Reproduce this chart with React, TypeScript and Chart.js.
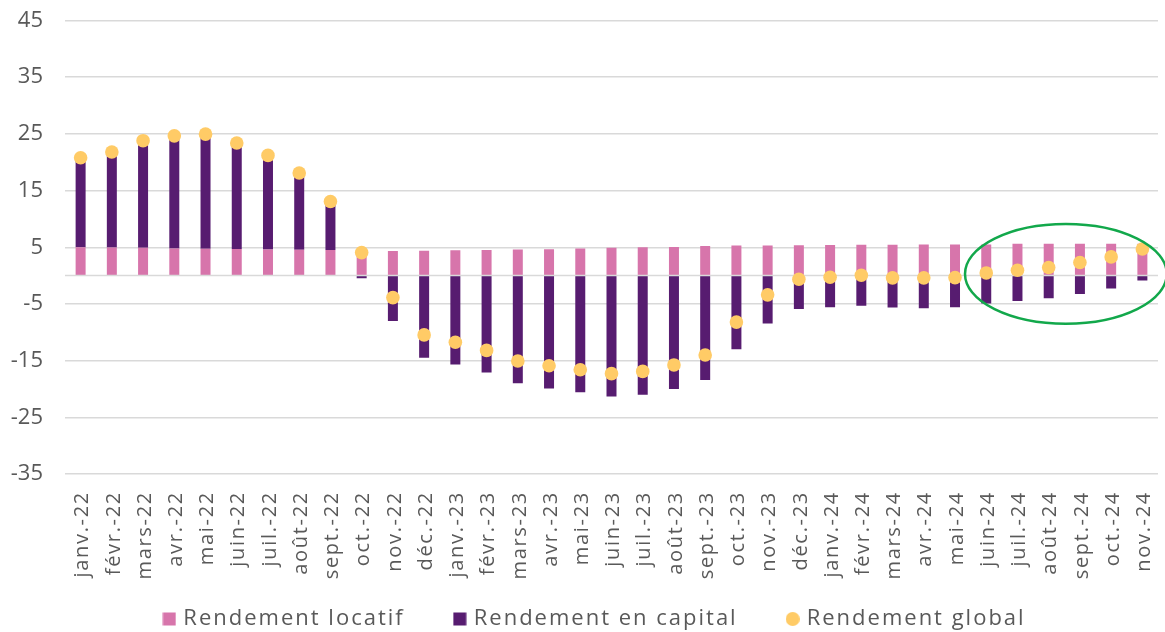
import React, { useEffect, useRef } from 'react';
import { Chart, registerables } from 'chart.js';

Chart.register(...registerables);

const labels = [
  'janv.-22', 'févr.-22', 'mars-22', 'avr.-22', 'mai-22', 'juin-22', 'juil.-22', 'août-22', 'sept.-22', 'oct.-22', 'nov.-22', 'déc.-22',
  'janv.-23', 'févr.-23', 'mars-23', 'avr.-23', 'mai-23', 'juin-23', 'juil.-23', 'août-23', 'sept.-23', 'oct.-23', 'nov.-23', 'déc.-23',
  'janv.-24', 'févr.-24', 'mars-24', 'avr.-24', 'mai-24', 'juin-24', 'juil.-24', 'août-24', 'sept.-24', 'oct.-24', 'nov.-24',
];

const rendementLocatif = [
  5.0, 4.95, 4.9, 4.8, 4.75, 4.7, 4.6, 4.55, 4.5, 4.5, 4.35, 4.4,
  4.48, 4.53, 4.6, 4.65, 4.77, 4.89, 5.0, 5.06, 5.24, 5.3, 5.3, 5.35,
  5.4, 5.45, 5.45, 5.5, 5.5, 5.5, 5.6, 5.6, 5.6, 5.6, 5.6,
];

const rendementCapital = [
  15.5, 16.45, 18.55, 19.5, 19.85, 18.2, 16.2, 13.15, 8.1, -0.47, -8.0, -14.5,
  -15.7, -17.1, -19.0, -19.9, -20.6, -21.35, -21.0, -20.0, -18.4, -13.0, -8.45, -5.88,
  -5.6, -5.3, -5.65, -5.76, -5.6, -4.94, -4.47, -4.0, -3.23, -2.29, -0.88,
];

const rendementGlobal = [
  20.8, 21.8, 23.8, 24.65, 24.95, 23.4, 21.2, 18.1, 13.06, 4.06, -3.88, -10.46,
  -11.76, -13.2, -15.06, -15.9, -16.6, -17.3, -16.9, -15.76, -14.0, -8.2, -3.4, -0.65,
  -0.29, 0.06, -0.4, -0.4, -0.35, 0.47, 0.95, 1.42, 2.3, 3.3, 4.7,
];

const seriesNames = ['Rendement locatif', 'Rendement en capital', 'Rendement global'];

const yMin = -35;
const yMax = 45;
const yStep = 10;

// annotation ellipse (category index / value units)
const ellipseCenter = { index: 31.55, value: 0.3 };
const ellipseRadius = { categories: 3.23, units: 8.8 };

const PINK = '#d775ab';
const PURPLE = '#571c70';
const YELLOW = '#ffcb66';
const GREEN = '#12a84b';
const TEXT = '#595959';
const GRID = '#d9d9d9';
const FONT = "'Open Sans', sans-serif";

function withSpacing(obj: any, method: string, spacing: string) {
  if (!obj || obj['__sp_' + method]) return;
  const orig = obj[method];
  obj[method] = function (...args: any[]) {
    const ctx = obj.ctx;
    const prev = ctx.letterSpacing;
    ctx.letterSpacing = spacing;
    try {
      return orig.apply(obj, args);
    } finally {
      ctx.letterSpacing = prev || '0px';
    }
  };
  obj['__sp_' + method] = true;
}

export default function App() {
  const ref = useRef<HTMLCanvasElement>(null);

  useEffect(() => {
    if (!ref.current) return;

    const icon = (draw: (g: CanvasRenderingContext2D) => void) => {
      const c = document.createElement('canvas');
      c.width = 14;
      c.height = 14;
      const g = c.getContext('2d')!;
      draw(g);
      return c;
    };
    const square = (col: string) => icon((g) => { g.fillStyle = col; g.fillRect(0.5, 0.5, 13, 13); });
    const circle = icon((g) => { g.fillStyle = YELLOW; g.beginPath(); g.arc(7, 7, 7, 0, Math.PI * 2); g.fill(); });
    const legendIcons = [square(PINK), square(PURPLE), circle];

    const zeroLine = {
      id: 'zeroLine',
      beforeDatasetDraw(chart: any, args: any) {
        if (args.index !== 2) return;
        const { ctx, chartArea, scales } = chart;
        const py = scales.y.getPixelForValue(0);
        ctx.save();
        ctx.strokeStyle = GRID;
        ctx.lineWidth = 1.5;
        ctx.beginPath();
        ctx.moveTo(chartArea.left, py);
        ctx.lineTo(chartArea.right, py);
        ctx.stroke();
        ctx.restore();
      },
    };

    const ellipse = {
      id: 'ellipse',
      afterDatasetsDraw(chart: any) {
        const { ctx, scales } = chart;
        const cx = scales.x.getPixelForValue(ellipseCenter.index);
        const cy = scales.y.getPixelForValue(ellipseCenter.value);
        const rx = Math.abs(scales.x.getPixelForValue(ellipseCenter.index + ellipseRadius.categories) - cx);
        const ry = Math.abs(scales.y.getPixelForValue(ellipseCenter.value + ellipseRadius.units) - cy);
        ctx.save();
        ctx.strokeStyle = GREEN;
        ctx.lineWidth = 2.5;
        ctx.beginPath();
        ctx.ellipse(cx, cy, rx, ry, 0, 0, Math.PI * 2);
        ctx.stroke();
        ctx.restore();
      },
    };

    const textTweaks = {
      id: 'textTweaks',
      beforeLayout(chart: any) {
        withSpacing(chart.legend, 'fit', '2px');
        withSpacing(chart.legend, 'draw', '2px');
        withSpacing(chart.scales.x, 'draw', '1.7px');
      },
      afterLayout(chart: any) {
        const lg = chart.legend;
        if (lg) {
          lg.left += 17;
          lg.right += 17;
          lg.top -= 29;
          lg.bottom = chart.height;
        }
      },
    };

    const chart = new Chart(ref.current, {
      type: 'bar',
      data: {
        labels,
        datasets: [
          {
            type: 'bar',
            label: seriesNames[0],
            data: rendementLocatif,
            backgroundColor: PINK,
            barPercentage: 0.32,
            categoryPercentage: 1,
            order: 1,
          },
          {
            type: 'bar',
            label: seriesNames[1],
            data: rendementCapital,
            backgroundColor: PURPLE,
            barPercentage: 0.32,
            categoryPercentage: 1,
            order: 1,
          },
          {
            type: 'line',
            label: seriesNames[2],
            data: rendementGlobal,
            showLine: false,
            pointRadius: 6.8,
            pointHoverRadius: 6.8,
            pointBackgroundColor: YELLOW,
            pointBorderWidth: 0,
            backgroundColor: YELLOW,
            borderColor: YELLOW,
            order: 0,
          } as any,
        ],
      },
      options: {
        responsive: false,
        animation: false,
        devicePixelRatio: 1,
        layout: { padding: { top: 20.5, right: 7, left: 0, bottom: 0 } },
        plugins: {
          tooltip: { enabled: false },
          legend: {
            position: 'bottom',
            maxHeight: 47,
            labels: {
              usePointStyle: true,
              pointStyleWidth: 6,
              boxHeight: 14,
              padding: 52,
              color: TEXT,
              font: { family: FONT, size: 22 },
              generateLabels: (c: any) => {
                const items = Chart.defaults.plugins.legend.labels.generateLabels(c);
                items.sort((a: any, b: any) => a.datasetIndex - b.datasetIndex);
                items.forEach((it: any) => {
                  it.pointStyle = legendIcons[it.datasetIndex];
                  it.lineWidth = 0;
                });
                return items;
              },
            },
          },
        },
        scales: {
          x: {
            stacked: true,
            grid: { display: false, drawTicks: false },
            border: { display: false },
            ticks: {
              autoSkip: false,
              minRotation: 90,
              maxRotation: 90,
              padding: 17,
              labelOffset: 2,
              color: TEXT,
              font: { family: FONT, size: 20 },
            },
            afterFit: (s: any) => {
              s.height = 111;
              s.paddingLeft = 0;
              s.paddingRight = 0;
            },
          },
          y: {
            stacked: true,
            min: yMin,
            max: yMax,
            ticks: {
              stepSize: yStep,
              padding: 22,
              color: TEXT,
              font: { family: FONT, size: 22 },
            },
            grid: { color: GRID, lineWidth: 1.5, drawTicks: false },
            border: { display: false },
            afterFit: (s: any) => {
              s.width = 65;
              s.paddingTop = 0;
              s.paddingBottom = 0;
            },
          },
        },
      },
      plugins: [zeroLine, ellipse, textTweaks],
    });

    return () => chart.destroy();
  }, []);

  return (
    <div style={{ position: 'absolute', left: 0, top: 0, width: 1165, height: 632, background: '#fff' }}>
      <canvas ref={ref} width={1165} height={632} />
    </div>
  );
}
